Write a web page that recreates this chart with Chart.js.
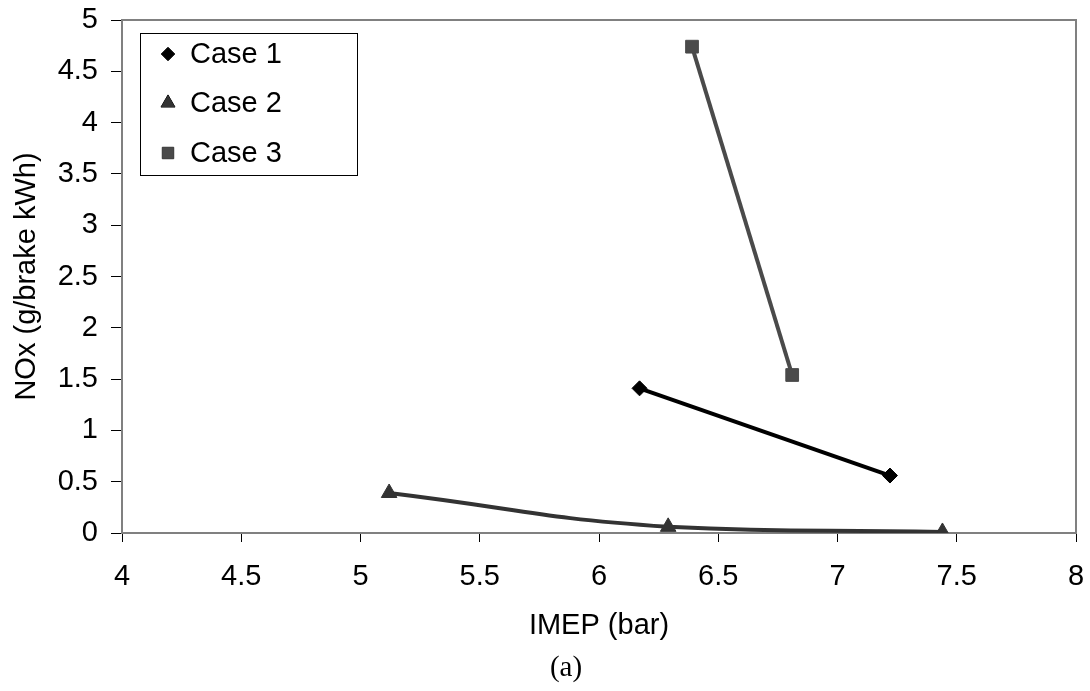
<!DOCTYPE html>
<html>
<head>
<meta charset="utf-8">
<script src="https://cdn.jsdelivr.net/npm/chart.js@4/dist/chart.umd.min.js"></script>
<style>
  html, body { margin: 0; padding: 0; background: #fff; }
  #wrap { position: relative; width: 1090px; height: 691px; }
  #caption { position: absolute; left: 0; width: 1132px; top: 650px; text-align: center;
    font-family: 'Liberation Serif', 'Times New Roman', serif; font-size: 29px; color: #000; }
</style>
</head>
<body>
<div id="wrap">
  <canvas id="myChart" width="1090" height="691"></canvas>
  <div id="caption">(a)</div>
</div>
<script>
// values: IMEP (bar) vs NOx (g/brake kWh)
let case1Imep = [6.17, 7.22]
let case1Nox = [1.41, 0.56]

let case2Imep = [5.12, 6.29, 7.44]
let case2Nox = [0.39, 0.06, 0.01]

let case3Imep = [6.39, 6.81]
let case3Nox = [4.74, 1.54]

let seriesNames = ["Case 1", "Case 2", "Case 3"]
let xTicks = [4, 4.5, 5, 5.5, 6, 6.5, 7, 7.5, 8]
let yTicks = [0, 0.5, 1, 1.5, 2, 2.5, 3, 3.5, 4, 4.5, 5]

function toPoints(xs, ys) {
	let pts = []
	for (let i = 0; i < xs.length; i++) {
		pts.push({ x: xs[i], y: ys[i] })
	}
	return pts
}

Chart.defaults.font.family = "'Liberation Sans', Arial, sans-serif"
Chart.defaults.color = "#000"

// gray frame on top and right of the plot area
const frame = {
	id: 'frame',
	beforeDatasetsDraw(chart) {
		let a = chart.chartArea
		let c = chart.ctx
		c.save()
		c.strokeStyle = "#808080"
		c.lineWidth = 2
		c.beginPath()
		c.moveTo(a.left, a.top)
		c.lineTo(a.right, a.top)
		c.lineTo(a.right, a.bottom)
		c.stroke()
		c.restore()
	}
}

// boxed legend inside the plot, top left
const boxLegend = {
	id: 'boxLegend',
	afterDraw(chart) {
		let a = chart.chartArea
		let c = chart.ctx
		let x0 = a.left + 18.5, y0 = 33.5
		c.save()
		c.fillStyle = "#fff"
		c.fillRect(x0, y0, 217, 142)
		c.strokeStyle = "#000"
		c.lineWidth = 1
		c.strokeRect(x0, y0, 217, 142)
		c.font = "29px 'Liberation Sans', Arial, sans-serif"
		c.textBaseline = "middle"
		let rows = [54, 103, 153]
		chart.data.datasets.forEach(function (ds, i) {
			Chart.helpers.drawPoint(c, {
				pointStyle: ds.pointStyle,
				radius: ds.pointRadius * 0.9,
				borderWidth: 1
			}, a.left + 46, rows[i])
			c.fillStyle = ds.pointBackgroundColor
			c.strokeStyle = ds.pointBackgroundColor
			c.fill()
			c.fillStyle = "#000"
			c.fillText(seriesNames[i], a.left + 68, rows[i] + 1)
		})
		c.restore()
	}
}

function plainLabel(v) {
	return String(v)
}

let ctx = document.getElementById("myChart").getContext('2d')
var myChart = new Chart(ctx, {
	type: 'scatter',
	data: {
		datasets: [{
			label: seriesNames[0],
			data: toPoints(case1Imep, case1Nox),
			showLine: true,
			borderColor: "#000",
			borderWidth: 4,
			pointStyle: 'rectRot',
			pointRadius: 7.5,
			pointBackgroundColor: "#000",
			pointBorderColor: "#000",
			pointBorderWidth: 1
		}, {
			label: seriesNames[1],
			data: toPoints(case2Imep, case2Nox),
			showLine: true,
			tension: 0.5,
			borderColor: "#333",
			borderWidth: 4,
			pointStyle: 'triangle',
			pointRadius: 9,
			pointBackgroundColor: "#333",
			pointBorderColor: "#333",
			pointBorderWidth: 1
		}, {
			label: seriesNames[2],
			data: toPoints(case3Imep, case3Nox),
			showLine: true,
			borderColor: "#4a4a4a",
			borderWidth: 4,
			pointStyle: 'rect',
			pointRadius: 9,
			pointBackgroundColor: "#4a4a4a",
			pointBorderColor: "#4a4a4a",
			pointBorderWidth: 1
		}]
	},
	options: {
		responsive: false,
		animation: false,
		layout: {
			padding: { top: 20, right: 14, bottom: 0, left: 0 }
		},
		plugins: {
			legend: { display: false },
			tooltip: { enabled: false }
		},
		scales: {
			x: {
				type: 'linear',
				min: 4,
				max: 8,
				afterFit: function (s) {
					s.height = 158
					s.paddingLeft = 0
					s.paddingRight = 0
				},
				afterBuildTicks: function (s) { s.ticks = xTicks.map(v => ({ value: v })) },
				border: { color: "#808080", width: 2 },
				grid: { drawOnChartArea: false, tickLength: 9, tickColor: "#000", tickWidth: 1 },
				ticks: { font: { size: 29 }, padding: 18, maxRotation: 0, callback: plainLabel },
				title: { display: true, text: "IMEP (bar)", font: { size: 29 }, padding: { top: 0, bottom: 48 } }
			},
			y: {
				type: 'linear',
				min: 0,
				max: 5,
				afterFit: function (s) {
					s.width = 122
					s.paddingTop = 0
					s.paddingBottom = 0
				},
				afterBuildTicks: function (s) { s.ticks = yTicks.map(v => ({ value: v })) },
				border: { color: "#808080", width: 2 },
				grid: { drawOnChartArea: false, tickLength: 11, tickColor: "#000", tickWidth: 1 },
				ticks: { font: { size: 29 }, padding: 13, callback: plainLabel },
				title: { display: true, text: "NOx (g/brake kWh)", font: { size: 29 }, padding: { top: 10, bottom: 0 } }
			}
		}
	},
	plugins: [frame, boxLegend]
})
</script>
</body>
</html>
